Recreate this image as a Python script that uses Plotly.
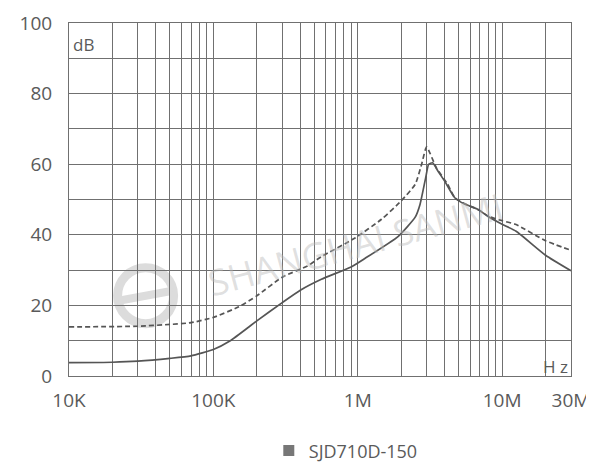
import plotly.graph_objects as go
import numpy as np

# ---- data ----
freq_dashed = [1e4, 3e4, 5e4, 7e4, 1e5, 1.5e5, 2e5, 3e5, 4.5e5, 5.6e5, 9.5e5, 1.46e6, 2.0e6,
               2.5e6, 2.77e6, 3.0e6, 3.5e6, 4.2e6, 4.7e6, 5.5e6, 6.8e6, 8e6, 1e7, 1.25e7, 2e7, 3e7]
db_dashed = [13.9, 14.1, 14.6, 15.1, 16.6, 19.6, 22.7, 28.0, 31.2, 33.8, 39.0, 44.4, 49.6,
             54.3, 60.0, 64.9, 59.0, 54.3, 50.5, 48.8, 47.2, 45.3, 44.0, 42.9, 38.3, 35.6]

freq_solid = [1e4, 2e4, 3e4, 5e4, 7e4, 1e5, 1.3e5, 2e5, 3e5, 4e5, 5.6e5, 9e5, 1.12e6, 1.9e6,
              2.5e6, 2.7e6, 2.95e6, 3.1e6, 3.3e6, 3.6e6, 4.0e6, 4.7e6, 5.5e6, 6.8e6, 8e6, 1e7,
              1.25e7, 2e7, 3e7]
db_solid = [3.8, 3.9, 4.2, 5.0, 5.7, 7.5, 9.9, 15.6, 20.8, 24.3, 27.4, 30.9, 33.3, 39.5,
            45.0, 48.6, 56.0, 60.0, 60.4, 58.0, 55.2, 50.5, 48.7, 47.2, 45.2, 43.0,
            41.0, 34.2, 29.8]

x_tick_vals = [1e4, 1e5, 1e6, 1e7, 3e7]
x_tick_text = ["10K", "100K", "1M", "10M", "30M"]
series_name = "SJD710D-150"

# ---- style ----
FONT = "Open Sans, sans-serif"
TXT = "#5a5a5a"
GRID = "#707070"
LINE = "#555555"

# grid positions on the log axis: 1..9 x each decade
grid_vals = []
for d in range(4, 8):
    for m in range(1, 10):
        v = m * 10 ** d
        if v <= 3e7:
            grid_vals.append(v)
tick_text_all = [x_tick_text[x_tick_vals.index(v)] if v in x_tick_vals else "" for v in grid_vals]

fig = go.Figure()
fig.add_trace(go.Scatter(x=freq_dashed, y=db_dashed, mode="lines", showlegend=False,
                         line=dict(color=LINE, width=1.7, dash="5px,3px", shape="spline", smoothing=0.5)))
fig.add_trace(go.Scatter(x=freq_solid, y=db_solid, mode="lines", showlegend=False,
                         line=dict(color=LINE, width=1.7, shape="spline", smoothing=0.5)))
# legend entry (square marker)
fig.add_trace(go.Scatter(x=[None], y=[None], mode="markers", name=series_name,
                         marker=dict(symbol="square", size=11, color="#777777")))

fig.update_layout(
    width=594, height=462,
    margin=dict(l=61, r=31, t=15, b=94, autoexpand=False),
    paper_bgcolor="white", plot_bgcolor="white",
    font=dict(family=FONT, color=TXT, size=18),
    showlegend=True,
    legend=dict(orientation="h", x=0.398, xanchor="left", y=-0.212, yanchor="middle",
                font=dict(size=18, color=TXT, family=FONT), itemwidth=30),
)
fig.update_xaxes(type="log", range=[4, np.log10(3e7)],
                 tickvals=grid_vals, ticktext=tick_text_all,
                 showgrid=True, gridcolor=GRID, gridwidth=1,
                 showline=True, linecolor=GRID, linewidth=1, mirror=True,
                 ticks="outside", ticklen=7, tickcolor="rgba(0,0,0,0)",
                 tickfont=dict(size=19, color=TXT, family=FONT), zeroline=False)
fig.update_yaxes(range=[0, 100], dtick=20, tick0=0,
                 showgrid=True, gridcolor=GRID, gridwidth=1,
                 minor=dict(dtick=10, showgrid=True, gridcolor=GRID, gridwidth=1),
                 showline=True, linecolor=GRID, linewidth=1, mirror=True,
                 ticks="outside", ticklen=12, tickcolor="rgba(0,0,0,0)",
                 tickfont=dict(size=19, color=TXT, family=FONT), zeroline=False)

# axis unit labels
fig.add_annotation(text="dB", xref="paper", yref="paper", x=0.003, y=0.94,
                   xanchor="left", yanchor="middle", showarrow=False,
                   font=dict(size=17, color=TXT, family=FONT))
fig.add_annotation(text="H z", xref="paper", yref="paper", x=0.998, y=0.027,
                   xanchor="right", yanchor="middle", showarrow=False,
                   font=dict(size=17, color=TXT, family=FONT))

# watermark
fig.add_annotation(text="SHANGHAI SANMI", xref="paper", yref="paper", x=0.57, y=0.372,
                   showarrow=False, textangle=-15,
                   font=dict(size=36, color="rgba(185,185,185,0.45)", family="Open Sans"))
cx, cy = 0.1526, 0.2275
fig.add_shape(type="circle", xref="paper", yref="paper", xsizemode="pixel", ysizemode="pixel",
              xanchor=cx, yanchor=cy, x0=-28, x1=28, y0=-28, y1=28,
              line=dict(color="#dcdcdc", width=9), layer="below")
fig.add_shape(type="line", xref="paper", yref="paper", xsizemode="pixel", ysizemode="pixel",
              xanchor=cx, yanchor=cy, x0=-27, x1=27, y0=-5, y1=5,
              line=dict(color="#dcdcdc", width=8), layer="below")

fig.write_html("out.html")
